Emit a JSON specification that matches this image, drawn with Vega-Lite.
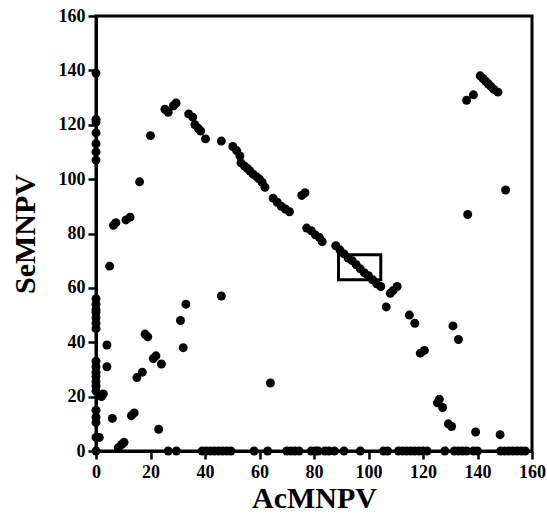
{
  "$schema": "https://vega.github.io/schema/vega-lite/v6.json",
  "width": 436,
  "height": 435,
  "autosize": "none",
  "padding": {"left": 96, "top": 16, "right": 15, "bottom": 69},
  "background": "white",
  "config": {
    "view": {"stroke": "black", "strokeWidth": 3},
    "axis": {
      "grid": false,
      "domainColor": "black",
      "domainWidth": 3,
      "tickColor": "black",
      "tickWidth": 2.5,
      "tickSize": 8,
      "labelFlush": false,
      "labelFont": "Liberation Serif",
      "labelFontWeight": "bold",
      "labelFontSize": 18,
      "labelColor": "black",
      "titleFont": "Liberation Serif",
      "titleFontWeight": "bold",
      "titleFontSize": 30,
      "titleColor": "black"
    }
  },
  "datasets": {
    "pts": [
      {"a": 0, "s": 139}, {"a": 0, "s": 122}, {"a": 0, "s": 121}, {"a": 0, "s": 117}, {"a": 0, "s": 113}, {"a": 0, "s": 110}, {"a": 0, "s": 107},
      {"a": 0, "s": 56}, {"a": 0, "s": 54}, {"a": 0, "s": 52}, {"a": 0, "s": 51}, {"a": 0, "s": 49}, {"a": 0, "s": 47}, {"a": 0, "s": 45},
      {"a": 0, "s": 33}, {"a": 0, "s": 31}, {"a": 0, "s": 29}, {"a": 0, "s": 27.5}, {"a": 0, "s": 25.5}, {"a": 0, "s": 24}, {"a": 0, "s": 22},
      {"a": 0, "s": 15}, {"a": 0, "s": 12.5}, {"a": 0, "s": 10.5}, {"a": 0, "s": 5}, {"a": 0, "s": 0},
      {"a": 4, "s": 39}, {"a": 4, "s": 31}, {"a": 2.7, "s": 21}, {"a": 2, "s": 20}, {"a": 6, "s": 12}, {"a": 1.2, "s": 5},
      {"a": 8.2, "s": 1.2}, {"a": 9.4, "s": 2.4}, {"a": 10.3, "s": 3.2},
      {"a": 5, "s": 68}, {"a": 6.4, "s": 83}, {"a": 7.3, "s": 84}, {"a": 11, "s": 85}, {"a": 12.5, "s": 86}, {"a": 16, "s": 99}, {"a": 20, "s": 116},
      {"a": 13, "s": 13}, {"a": 14, "s": 14}, {"a": 15, "s": 27}, {"a": 17, "s": 29}, {"a": 18, "s": 43}, {"a": 19, "s": 42},
      {"a": 21, "s": 34}, {"a": 22, "s": 35}, {"a": 24, "s": 32}, {"a": 23, "s": 8}, {"a": 31, "s": 48}, {"a": 33, "s": 54}, {"a": 32, "s": 38},
      {"a": 46, "s": 57}, {"a": 64, "s": 25},
      {"a": 25.3, "s": 125.7}, {"a": 26.5, "s": 124.6}, {"a": 28.4, "s": 127}, {"a": 29.4, "s": 128}, {"a": 34, "s": 124}, {"a": 35.5, "s": 122.8},
      {"a": 36.3, "s": 120}, {"a": 37.5, "s": 118.7}, {"a": 38.4, "s": 117.7}, {"a": 40.2, "s": 114.8}, {"a": 46, "s": 114},
      {"a": 50.2, "s": 112}, {"a": 51.6, "s": 110.5}, {"a": 52.8, "s": 108.5}, {"a": 53.2, "s": 106}, {"a": 54.5, "s": 104.8}, {"a": 55.5, "s": 104},
      {"a": 56.5, "s": 103}, {"a": 57.7, "s": 101.8}, {"a": 59, "s": 100.8}, {"a": 60, "s": 100}, {"a": 61, "s": 98.8}, {"a": 62, "s": 97},
      {"a": 65, "s": 93}, {"a": 66.5, "s": 91.5}, {"a": 68, "s": 90}, {"a": 69.5, "s": 89}, {"a": 71, "s": 88},
      {"a": 75.5, "s": 94}, {"a": 76.7, "s": 95},
      {"a": 77.3, "s": 82}, {"a": 79, "s": 81}, {"a": 80.5, "s": 79.5}, {"a": 82, "s": 78.5}, {"a": 83, "s": 77},
      {"a": 88, "s": 75.5}, {"a": 89.5, "s": 74}, {"a": 91, "s": 72.5}, {"a": 92.5, "s": 71}, {"a": 94, "s": 70}, {"a": 95.5, "s": 68.5},
      {"a": 97, "s": 67}, {"a": 98.5, "s": 65.5}, {"a": 100, "s": 64.5}, {"a": 101.5, "s": 63}, {"a": 103, "s": 61.5}, {"a": 104.5, "s": 60.5},
      {"a": 108, "s": 58}, {"a": 109, "s": 59}, {"a": 110.5, "s": 60.5},
      {"a": 106.5, "s": 53}, {"a": 115, "s": 50}, {"a": 117, "s": 47}, {"a": 119, "s": 36}, {"a": 120.5, "s": 37}, {"a": 131, "s": 46}, {"a": 133, "s": 41},
      {"a": 125.3, "s": 17.7}, {"a": 126, "s": 19}, {"a": 127.2, "s": 16}, {"a": 129.3, "s": 10}, {"a": 130.5, "s": 9}, {"a": 139.3, "s": 7}, {"a": 148.3, "s": 6},
      {"a": 136, "s": 129}, {"a": 138.5, "s": 131}, {"a": 141, "s": 138}, {"a": 142, "s": 137}, {"a": 143, "s": 136}, {"a": 144, "s": 135},
      {"a": 145, "s": 134}, {"a": 146, "s": 133}, {"a": 147.5, "s": 132},
      {"a": 150.3, "s": 96}, {"a": 136.4, "s": 87},
      {"a": 26.5, "s": 0}, {"a": 29.5, "s": 0}, {"a": 39, "s": 0}, {"a": 40.5, "s": 0}, {"a": 42, "s": 0}, {"a": 43.5, "s": 0}, {"a": 45, "s": 0},
      {"a": 46.5, "s": 0}, {"a": 48, "s": 0}, {"a": 49.5, "s": 0}, {"a": 58, "s": 0}, {"a": 63, "s": 0}, {"a": 70, "s": 0}, {"a": 71.5, "s": 0},
      {"a": 73, "s": 0}, {"a": 74.5, "s": 0}, {"a": 79, "s": 0}, {"a": 80.5, "s": 0}, {"a": 81.5, "s": 0}, {"a": 84, "s": 0}, {"a": 85.5, "s": 0},
      {"a": 87.5, "s": 0}, {"a": 91, "s": 0}, {"a": 97, "s": 0}, {"a": 105.5, "s": 0}, {"a": 107, "s": 0}, {"a": 111, "s": 0}, {"a": 112.5, "s": 0},
      {"a": 114, "s": 0}, {"a": 115.5, "s": 0}, {"a": 117, "s": 0}, {"a": 118.5, "s": 0}, {"a": 120, "s": 0}, {"a": 121.5, "s": 0}, {"a": 128, "s": 0},
      {"a": 131.5, "s": 0}, {"a": 133, "s": 0}, {"a": 134.5, "s": 0}, {"a": 136, "s": 0}, {"a": 138.5, "s": 0}, {"a": 140, "s": 0},
      {"a": 148.5, "s": 0}, {"a": 150, "s": 0}, {"a": 151.5, "s": 0}, {"a": 153, "s": 0}, {"a": 154.5, "s": 0}, {"a": 156, "s": 0}, {"a": 157.5, "s": 0}
    ],
    "box": [{"a1": 89, "a2": 104.5, "s1": 63, "s2": 72.2}]
  },
  "layer": [
    {
      "data": {"name": "pts"},
      "mark": {"type": "circle", "size": 80, "color": "black", "opacity": 1, "clip": false},
      "encoding": {
        "x": {"field": "a", "type": "quantitative", "title": "AcMNPV",
              "scale": {"domain": [0, 160], "nice": false, "zero": true},
              "axis": {"values": [0, 20, 40, 60, 80, 100, 120, 140, 160], "labelPadding": 4, "titlePadding": 2}},
        "y": {"field": "s", "type": "quantitative", "title": "SeMNPV",
              "scale": {"domain": [0, 160], "nice": false, "zero": true},
              "axis": {"values": [0, 20, 40, 60, 80, 100, 120, 140, 160], "labelPadding": 3, "titlePadding": 18}}
      }
    },
    {
      "data": {"name": "box"},
      "mark": {"type": "rect", "fill": null, "fillOpacity": 0, "stroke": "black", "strokeWidth": 3},
      "encoding": {
        "x": {"field": "a1", "type": "quantitative"},
        "x2": {"field": "a2"},
        "y": {"field": "s1", "type": "quantitative"},
        "y2": {"field": "s2"}
      }
    }
  ]
}
